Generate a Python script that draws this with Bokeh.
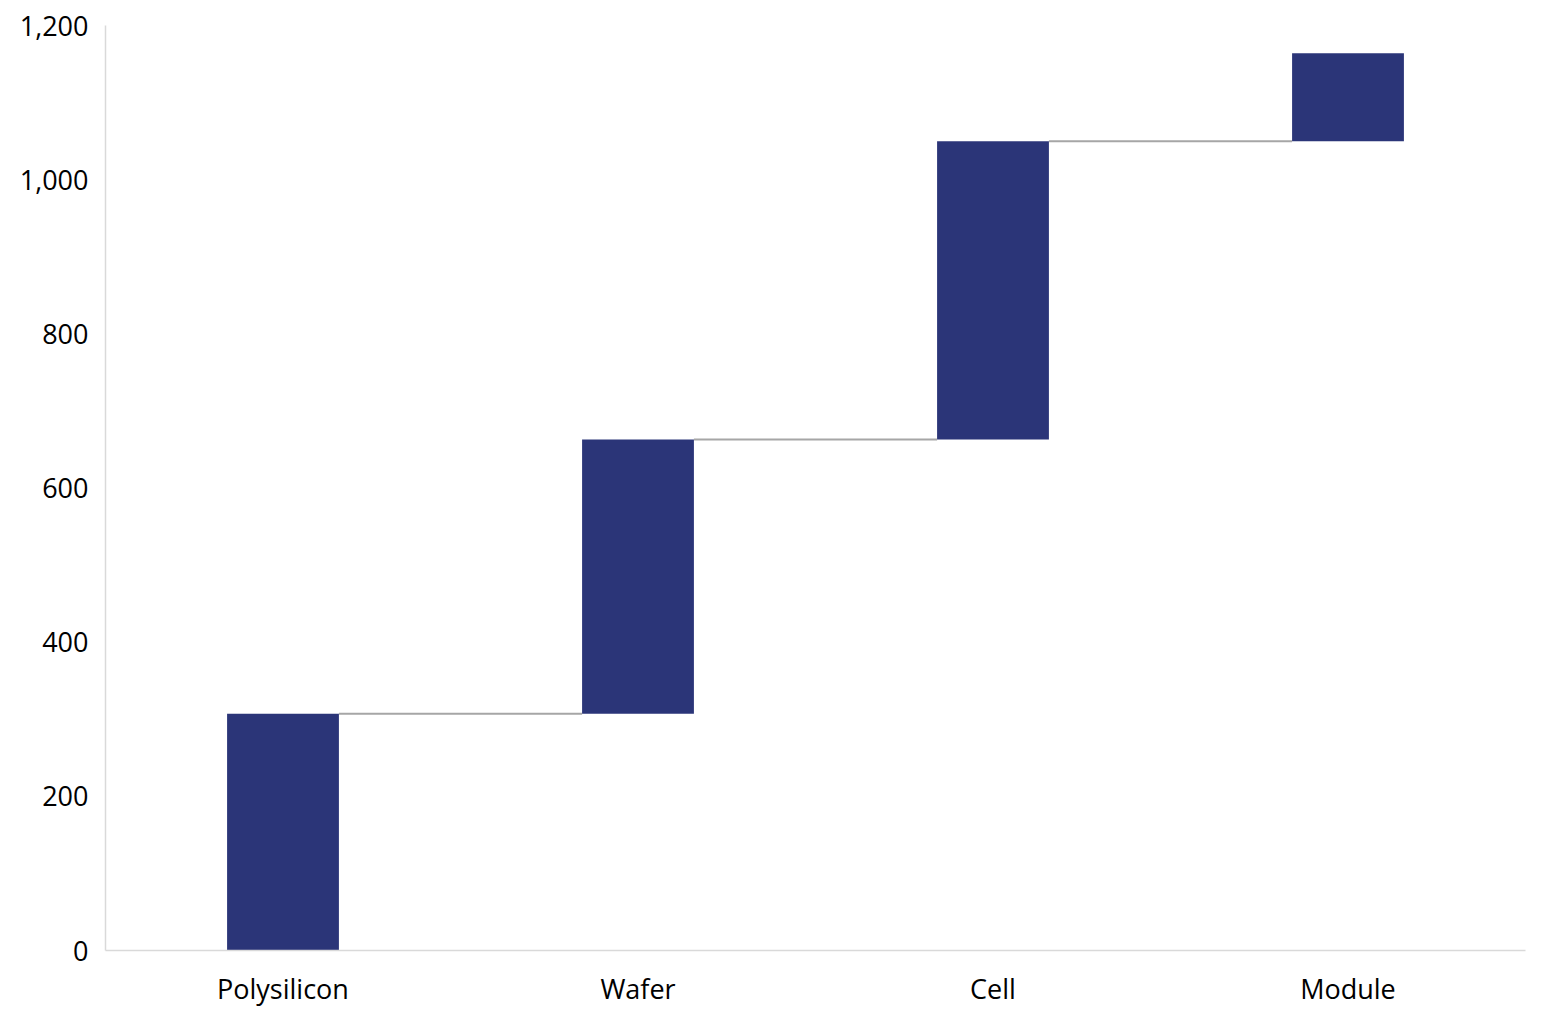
from bokeh.plotting import figure
from bokeh.models import ColumnDataSource, Range1d, NumeralTickFormatter, FixedTicker
from bokeh.transform import dodge
from bokeh.embed import file_html
from bokeh.resources import INLINE

categories = ["Polysilicon", "Wafer", "Cell", "Module"]
increments = [307, 356, 387, 114]
y_ticks = [0, 200, 400, 600, 800, 1000, 1200]

bottoms = []
tops = []
run = 0
for v in increments:
    bottoms.append(run)
    run += v
    tops.append(run)

BAR_W = 0.315
BAR_COLOR = "#2B3578"

bars = ColumnDataSource(dict(cat=categories, bottom=bottoms, top=tops))
conn = ColumnDataSource(dict(c0=categories[:-1], c1=categories[1:], y=tops[:-1]))

p = figure(x_range=categories, y_range=Range1d(0, 1200), width=1537, height=1009,
           output_backend="svg", toolbar_location=None,
           min_border_left=105, min_border_right=12, min_border_top=25, min_border_bottom=59)
p.x_range.range_padding = 0

p.segment(x0=dodge("c0", BAR_W / 2, range=p.x_range), y0="y",
          x1=dodge("c1", -BAR_W / 2, range=p.x_range), y1="y",
          source=conn, line_color="#A6A6A6", line_width=2)
p.vbar(x="cat", bottom="bottom", top="top", width=BAR_W, source=bars,
       fill_color=BAR_COLOR, line_color=None)

p.outline_line_color = None
p.xgrid.grid_line_color = None
p.ygrid.grid_line_color = None

FONT = "Open Sans"
for ax in (p.xaxis[0], p.yaxis[0]):
    ax.axis_line_color = "#D9D9D9"
    ax.axis_line_width = 1.5
    ax.major_tick_line_color = None
    ax.minor_tick_line_color = None
    ax.major_label_text_font = FONT
    ax.major_label_text_font_size = "27px"
    ax.major_label_text_color = "#000000"

p.yaxis[0].ticker = FixedTicker(ticks=y_ticks)
p.yaxis[0].formatter = NumeralTickFormatter(format="0,0")
p.yaxis[0].major_label_standoff = 11
p.xaxis[0].major_label_standoff = 13
p.xaxis[0].major_label_text_line_height = 1.0

open("out.html", "w").write(file_html(p, INLINE))
